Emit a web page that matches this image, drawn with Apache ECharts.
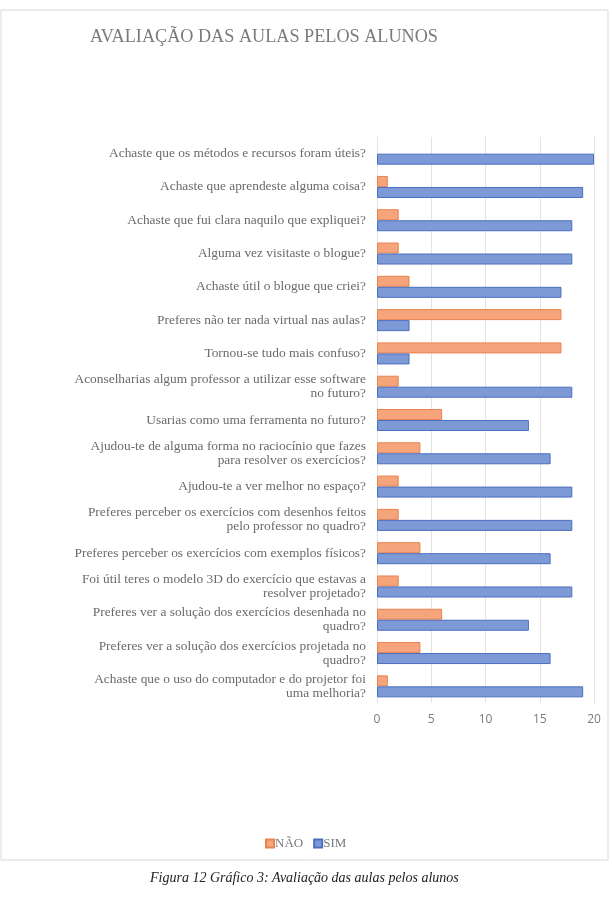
<!DOCTYPE html>
<html><head><meta charset="utf-8">
<script src="https://cdn.jsdelivr.net/npm/echarts@6/dist/echarts.min.js"></script>
<style>html,body{margin:0;padding:0;background:#fff}#c{width:612px;height:909px}</style>
</head><body><div id="c"></div>
<script>
var categories = [
  "Achaste que os métodos e recursos foram úteis?",
  "Achaste que aprendeste alguma coisa?",
  "Achaste que fui clara naquilo que expliquei?",
  "Alguma vez visitaste o blogue?",
  "Achaste útil o blogue que criei?",
  "Preferes não ter nada virtual nas aulas?",
  "Tornou-se tudo mais confuso?",
  "Aconselharias algum professor a utilizar esse software\nno futuro?",
  "Usarias como uma ferramenta no futuro?",
  "Ajudou-te de alguma forma no raciocínio que fazes\npara resolver os exercícios?",
  "Ajudou-te a ver melhor no espaço?",
  "Preferes perceber os exercícios com desenhos feitos\npelo professor no quadro?",
  "Preferes perceber os exercícios com exemplos físicos?",
  "Foi útil teres o modelo 3D do exercício que estavas a\nresolver projetado?",
  "Preferes ver a solução dos exercícios desenhada no\nquadro?",
  "Preferes ver a solução dos exercícios projetada no\nquadro?",
  "Achaste que o uso do computador e do projetor foi\numa melhoria?"
];
var naoValues = [0, 1, 2, 2, 3, 17, 17, 2, 6, 4, 2, 2, 4, 2, 6, 4, 1];
var simValues = [20, 19, 18, 18, 17, 3, 3, 18, 14, 16, 18, 18, 16, 18, 14, 16, 19];
var xTicks = [0, 5, 10, 15, 20];

function barData(vals) {
  return vals.map(function (v) {
    return v === 0 ? {value: v, itemStyle: {borderWidth: 0, opacity: 0}} : v;
  });
}

var chart = echarts.init(document.getElementById('c'));
chart.setOption({
  animation: false,
  title: [
    {text: 'AVALIAÇÃO DAS AULAS PELOS ALUNOS', left: 85, top: 23,
     textStyle: {fontFamily: 'Liberation Serif', fontSize: 18.2, fontWeight: 'normal', color: '#7a7a7a'}},
    {text: 'Figura 12 Gráfico 3: Avaliação das aulas pelos alunos', left: 145, top: 866,
     textStyle: {fontFamily: 'Liberation Serif', fontSize: 14, fontWeight: 'normal', fontStyle: 'italic', color: '#222'}}
  ],
  graphic: [
    {type: 'rect', shape: {x: 1, y: 10, width: 607, height: 850}, style: {fill: 'none', stroke: '#d9d9d9', lineWidth: 1}, silent: true}
  ],
  legend: {
    data: ['NÃO', 'SIM'], left: 260, top: 832, itemWidth: 8, itemHeight: 8, itemGap: 10,
    icon: 'rect',
    textStyle: {fontFamily: 'Liberation Serif', fontSize: 13, color: '#7a7a7a', padding: [0, 0, 0, -4]}
  },
  grid: {left: 377, right: 18, top: 137, bottom: 206, containLabel: false},
  xAxis: {
    type: 'value', min: 0, max: 20, interval: 5,
    axisLine: {show: false}, axisTick: {show: false},
    splitLine: {lineStyle: {color: '#e3e3e3'}},
    axisLabel: {fontFamily: 'Open Sans', fontSize: 12, color: '#7a7a7a', margin: 11,
      formatter: function (v) { return xTicks.indexOf(v) >= 0 ? String(v) : ''; }}
  },
  yAxis: {
    type: 'category', data: categories, inverse: true,
    axisLine: {show: true, lineStyle: {color: '#e3e3e3'}}, axisTick: {show: false},
    axisLabel: {fontFamily: 'Liberation Serif', fontSize: 13.4, color: '#6a6a6a', margin: 11, lineHeight: 14, align: 'right', padding: [3, 0, 0, 0]}
  },
  series: [
    {name: 'NÃO', type: 'bar', data: barData(naoValues), barWidth: 11, barGap: '0%',
     itemStyle: {color: '#F5A47C', borderColor: '#E9834F', borderWidth: 1}},
    {name: 'SIM', type: 'bar', data: barData(simValues), barWidth: 11, barGap: '0%',
     itemStyle: {color: '#7E9AD6', borderColor: '#4A6FC0', borderWidth: 1}}
  ]
});
</script></body></html>
